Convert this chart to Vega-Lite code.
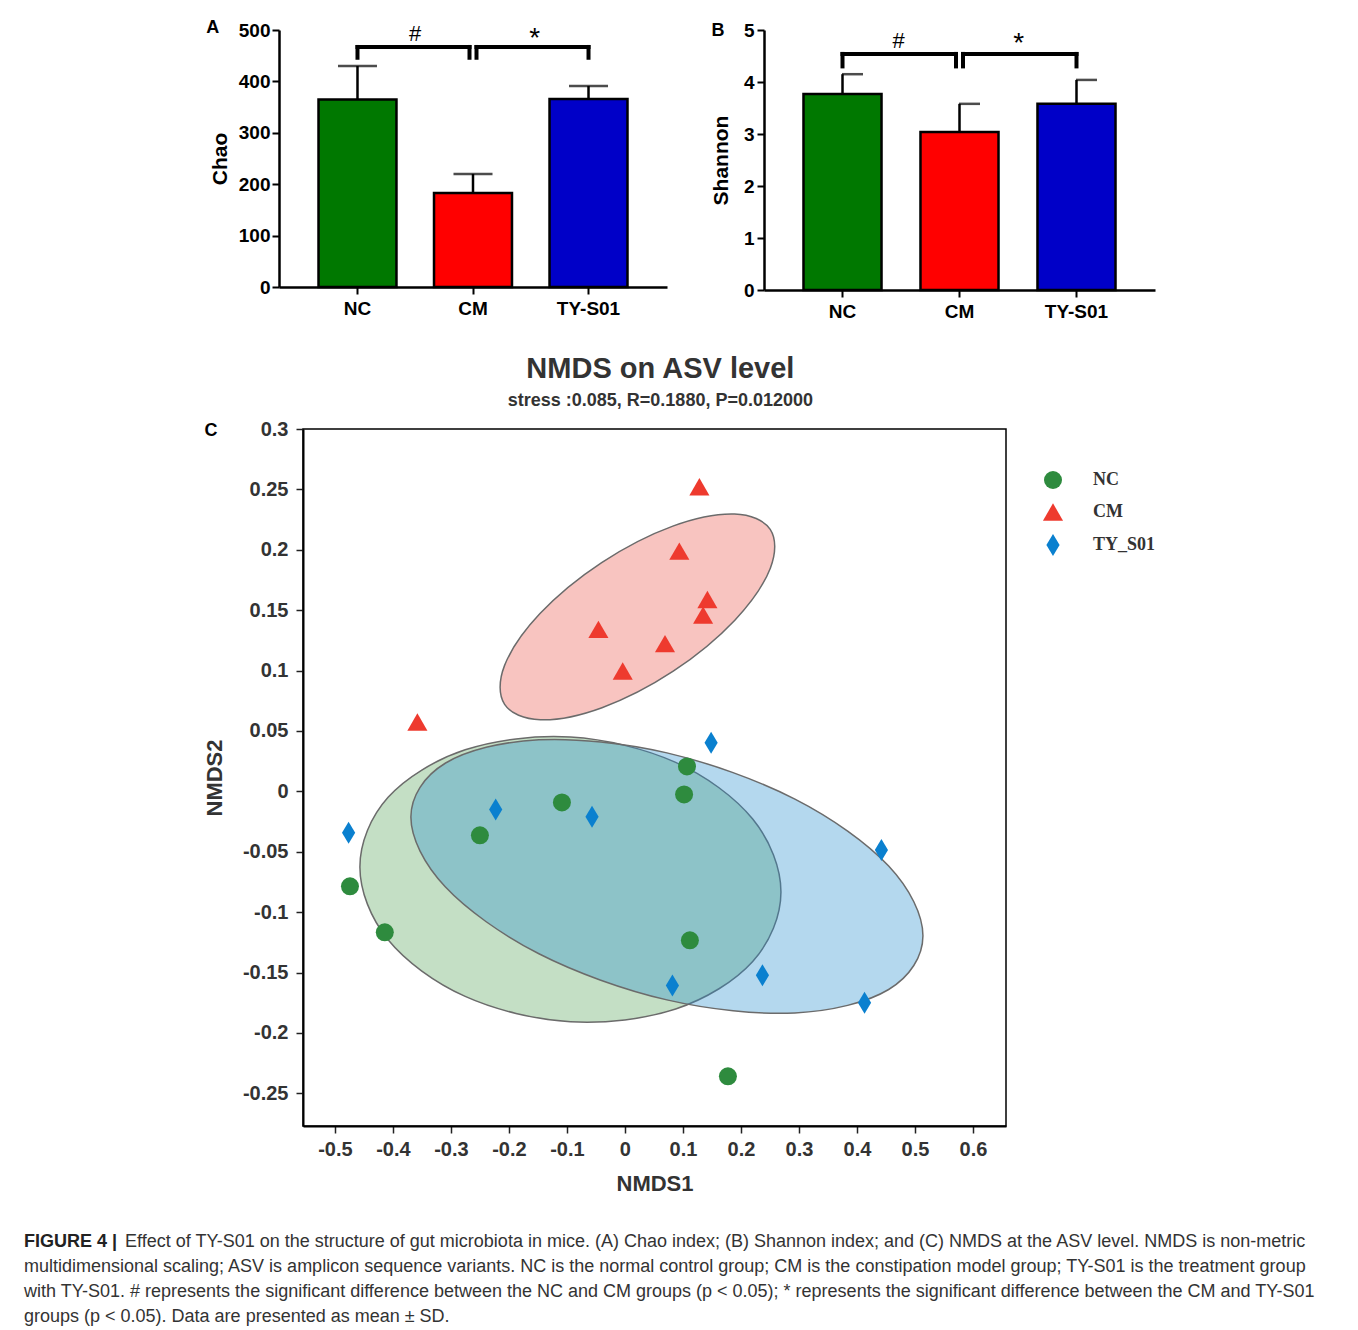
{
  "$schema": "https://vega.github.io/schema/vega-lite/v6.json",
  "background": "white",
  "padding": {"left": 24, "top": 19, "right": 0, "bottom": 0},
  "config": {
    "font": "Liberation Sans",
    "view": {"stroke": null},
    "axis": {"grid": false, "labelFont": "Liberation Sans", "titleFont": "Liberation Sans"},
    "title": {"font": "Liberation Sans"}
  },
  "datasets": {
    "chao": [
      {"group": "NC", "mean": 365, "upper": 430},
      {"group": "CM", "mean": 183, "upper": 220},
      {"group": "TY-S01", "mean": 366, "upper": 391}
    ],
    "chaoSig": [
      {"k": "h1", "a": "NC", "b": "CM", "y": 467, "y0": 446, "t": "#", "ty": 492},
      {"k": "h2", "a": "CM", "b": "TY-S01", "y": 467, "y0": 446, "t": "*", "ty": 482}
    ],
    "shannon": [
      {"group": "NC", "mean": 3.77, "upper": 4.15},
      {"group": "CM", "mean": 3.04, "upper": 3.58},
      {"group": "TY-S01", "mean": 3.58, "upper": 4.04}
    ],
    "shannonSig": [
      {"k": "h1", "a": "NC", "b": "CM", "y": 4.54, "y0": 4.3, "t": "#", "ty": 4.78},
      {"k": "h2", "a": "CM", "b": "TY-S01", "y": 4.54, "y0": 4.3, "t": "*", "ty": 4.74}
    ],
    "ell": [
      {"grp": "NC", "ord": 0, "x": 0.2690, "y": -0.0832},
      {"grp": "NC", "ord": 1, "x": 0.2203, "y": -0.1408},
      {"grp": "NC", "ord": 2, "x": 0.0875, "y": -0.1801},
      {"grp": "NC", "ord": 3, "x": -0.0940, "y": -0.1907},
      {"grp": "NC", "ord": 4, "x": -0.2754, "y": -0.1697},
      {"grp": "NC", "ord": 5, "x": -0.4083, "y": -0.1228},
      {"grp": "NC", "ord": 6, "x": -0.4569, "y": -0.0625},
      {"grp": "NC", "ord": 7, "x": -0.4083, "y": -0.0049},
      {"grp": "NC", "ord": 8, "x": -0.2754, "y": 0.0344},
      {"grp": "NC", "ord": 9, "x": -0.0940, "y": 0.0450},
      {"grp": "NC", "ord": 10, "x": 0.0875, "y": 0.0240},
      {"grp": "NC", "ord": 11, "x": 0.2203, "y": -0.0229},
      {"grp": "TY_S01", "ord": 0, "x": 0.5138, "y": -0.1195},
      {"grp": "TY_S01", "ord": 1, "x": 0.4547, "y": -0.1640},
      {"grp": "TY_S01", "ord": 2, "x": 0.2931, "y": -0.1834},
      {"grp": "TY_S01", "ord": 3, "x": 0.0724, "y": -0.1726},
      {"grp": "TY_S01", "ord": 4, "x": -0.1483, "y": -0.1344},
      {"grp": "TY_S01", "ord": 5, "x": -0.3098, "y": -0.0790},
      {"grp": "TY_S01", "ord": 6, "x": -0.3690, "y": -0.0213},
      {"grp": "TY_S01", "ord": 7, "x": -0.3098, "y": 0.0233},
      {"grp": "TY_S01", "ord": 8, "x": -0.1483, "y": 0.0427},
      {"grp": "TY_S01", "ord": 9, "x": 0.0724, "y": 0.0319},
      {"grp": "TY_S01", "ord": 10, "x": 0.2931, "y": -0.0064},
      {"grp": "TY_S01", "ord": 11, "x": 0.4547, "y": -0.0618},
      {"grp": "CM", "ord": 0, "x": 0.2505, "y": 0.2169},
      {"grp": "CM", "ord": 1, "x": 0.2507, "y": 0.1848},
      {"grp": "CM", "ord": 2, "x": 0.1895, "y": 0.1417},
      {"grp": "CM", "ord": 3, "x": 0.0833, "y": 0.0995},
      {"grp": "CM", "ord": 4, "x": -0.0395, "y": 0.0693},
      {"grp": "CM", "ord": 5, "x": -0.1459, "y": 0.0593},
      {"grp": "CM", "ord": 6, "x": -0.2074, "y": 0.0720},
      {"grp": "CM", "ord": 7, "x": -0.2076, "y": 0.1041},
      {"grp": "CM", "ord": 8, "x": -0.1464, "y": 0.1472},
      {"grp": "CM", "ord": 9, "x": -0.0401, "y": 0.1894},
      {"grp": "CM", "ord": 10, "x": 0.0826, "y": 0.2196},
      {"grp": "CM", "ord": 11, "x": 0.1890, "y": 0.2296}
    ],
    "pts": [
      {"grp": "NC", "x": 0.107, "y": 0.0207},
      {"grp": "NC", "x": 0.102, "y": -0.0025},
      {"grp": "NC", "x": -0.1086, "y": -0.0091},
      {"grp": "NC", "x": -0.250, "y": -0.0364},
      {"grp": "NC", "x": -0.474, "y": -0.0786},
      {"grp": "NC", "x": -0.414, "y": -0.1167},
      {"grp": "NC", "x": 0.112, "y": -0.1233},
      {"grp": "NC", "x": 0.1776, "y": -0.2359},
      {"grp": "CM", "x": 0.1284, "y": 0.2522},
      {"grp": "CM", "x": 0.0938, "y": 0.1989},
      {"grp": "CM", "x": 0.1422, "y": 0.1589},
      {"grp": "CM", "x": 0.1348, "y": 0.1459},
      {"grp": "CM", "x": -0.0457, "y": 0.1341},
      {"grp": "CM", "x": 0.0691, "y": 0.1223},
      {"grp": "CM", "x": -0.0038, "y": 0.0996},
      {"grp": "CM", "x": -0.3578, "y": 0.0574},
      {"grp": "TY_S01", "x": 0.1486, "y": 0.0403},
      {"grp": "TY_S01", "x": -0.2228, "y": -0.0149},
      {"grp": "TY_S01", "x": -0.0567, "y": -0.0210},
      {"grp": "TY_S01", "x": -0.4764, "y": -0.0342},
      {"grp": "TY_S01", "x": 0.4422, "y": -0.0486},
      {"grp": "TY_S01", "x": 0.2371, "y": -0.1523},
      {"grp": "TY_S01", "x": 0.0819, "y": -0.1606},
      {"grp": "TY_S01", "x": 0.4131, "y": -0.1749}
    ],
    "caption": [
      {"line": 1, "w": "b", "text": "FIGURE 4 |"},
      {"line": 1, "w": "r1", "text": "Effect of TY-S01 on the structure of gut microbiota in mice. (A) Chao index; (B) Shannon index; and (C) NMDS at the ASV level. NMDS is non-metric"},
      {"line": 2, "w": "r", "text": "multidimensional scaling; ASV is amplicon sequence variants. NC is the normal control group; CM is the constipation model group; TY-S01 is the treatment group"},
      {"line": 3, "w": "r", "text": "with TY-S01. # represents the significant difference between the NC and CM groups (p < 0.05); * represents the significant difference between the CM and TY-S01"},
      {"line": 4, "w": "r", "text": "groups (p < 0.05). Data are presented as mean ± SD."}
    ]
  },
  "spacing": 34,
  "align": "none",
  "bounds": "full",
  "resolve": {
    "scale": {"color": "independent", "shape": "independent", "size": "independent"},
    "legend": {"color": "independent", "shape": "independent", "size": "independent"}
  },
  "vconcat": [
    {
      "spacing": 43,
      "align": "none",
      "bounds": "full",
      "hconcat": [
        {"width": 139, "height": 1, "data": {"values": [{"s": 1}]}, "mark": {"type": "point", "opacity": 0}},
        {
          "width": 388,
          "height": 257,
          "title": {"text": "A", "orient": "left", "anchor": "end", "angle": 0, "align": "right", "baseline": "middle", "offset": -23, "dy": 7, "fontSize": 18, "fontWeight": "bold", "color": "black"},
          "layer": [
            {
              "data": {"name": "chao"},
              "mark": {"type": "bar", "stroke": "black", "strokeWidth": 2.5},
              "encoding": {
                "x": {"field": "group", "type": "nominal", "sort": ["NC", "CM", "TY-S01"], "scale": {"domain": ["NC", "CM", "TY-S01"], "paddingInner": 0.325, "paddingOuter": 0.342},
                  "axis": {"title": null, "labelAngle": 0, "labelFontSize": 19, "labelFontWeight": "bold", "labelColor": "black", "labelPadding": 5, "tickSize": 7, "tickWidth": 2, "tickColor": "black", "domainColor": "black", "domainWidth": 2.5}},
                "y": {"field": "mean", "type": "quantitative", "scale": {"domain": [0, 500], "nice": false},
                  "axis": {"title": "Chao", "values": [0, 100, 200, 300, 400, 500], "titleFontSize": 21, "titleFontWeight": "bold", "titleColor": "black", "titlePadding": 8, "labelFontSize": 19, "labelFontWeight": "bold", "labelColor": "black", "labelPadding": 2, "tickSize": 7, "tickWidth": 2, "tickColor": "black", "domainColor": "black", "domainWidth": 2.5}},
                "color": {"field": "group", "type": "nominal", "scale": {"domain": ["NC", "CM", "TY-S01"], "range": ["#007800", "#ff0000", "#0000c8"]}, "legend": null}
              }
            },
            {
              "data": {"name": "chao"},
              "mark": {"type": "rule", "color": "black", "strokeWidth": 2.5},
              "encoding": {
                "x": {"field": "group", "type": "nominal", "sort": ["NC", "CM", "TY-S01"]},
                "y": {"field": "mean", "type": "quantitative"},
                "y2": {"field": "upper"}
              }
            },
            {
              "data": {"name": "chao"},
              "mark": {"type": "tick", "color": "black", "thickness": 2.5, "size": 39, "orient": "horizontal"},
              "encoding": {
                "x": {"field": "group", "type": "nominal", "sort": ["NC", "CM", "TY-S01"]},
                "y": {"field": "upper", "type": "quantitative"}
              }
            },
            {
              "data": {"name": "chaoSig"},
              "transform": [{"filter": "datum.k == 'h1'"}],
              "mark": {"type": "rule", "color": "black", "strokeWidth": 4, "strokeCap": "square", "x2Offset": -3.5},
              "encoding": {"x": {"field": "a", "type": "nominal", "sort": ["NC", "CM", "TY-S01"]}, "x2": {"field": "b"}, "y": {"field": "y", "type": "quantitative"}}
            },
            {
              "data": {"name": "chaoSig"},
              "transform": [{"filter": "datum.k == 'h1'"}],
              "mark": {"type": "rule", "color": "black", "strokeWidth": 4, "strokeCap": "square"},
              "encoding": {"x": {"field": "a", "type": "nominal", "sort": ["NC", "CM", "TY-S01"]}, "y": {"field": "y0", "type": "quantitative"}, "y2": {"field": "y"}}
            },
            {
              "data": {"name": "chaoSig"},
              "transform": [{"filter": "datum.k == 'h1'"}],
              "mark": {"type": "rule", "color": "black", "strokeWidth": 4, "strokeCap": "square", "xOffset": -3.5},
              "encoding": {"x": {"field": "b", "type": "nominal", "sort": ["NC", "CM", "TY-S01"]}, "y": {"field": "y0", "type": "quantitative"}, "y2": {"field": "y"}}
            },
            {
              "data": {"name": "chaoSig"},
              "transform": [{"filter": "datum.k == 'h2'"}],
              "mark": {"type": "rule", "color": "black", "strokeWidth": 4, "strokeCap": "square", "xOffset": 3.5},
              "encoding": {"x": {"field": "a", "type": "nominal", "sort": ["NC", "CM", "TY-S01"]}, "x2": {"field": "b"}, "y": {"field": "y", "type": "quantitative"}}
            },
            {
              "data": {"name": "chaoSig"},
              "transform": [{"filter": "datum.k == 'h2'"}],
              "mark": {"type": "rule", "color": "black", "strokeWidth": 4, "strokeCap": "square", "xOffset": 3.5},
              "encoding": {"x": {"field": "a", "type": "nominal", "sort": ["NC", "CM", "TY-S01"]}, "y": {"field": "y0", "type": "quantitative"}, "y2": {"field": "y"}}
            },
            {
              "data": {"name": "chaoSig"},
              "transform": [{"filter": "datum.k == 'h2'"}],
              "mark": {"type": "rule", "color": "black", "strokeWidth": 4, "strokeCap": "square"},
              "encoding": {"x": {"field": "b", "type": "nominal", "sort": ["NC", "CM", "TY-S01"]}, "y": {"field": "y0", "type": "quantitative"}, "y2": {"field": "y"}}
            },
            {
              "data": {"name": "chaoSig"},
              "transform": [{"filter": "datum.k == 'h1'"}],
              "mark": {"type": "text", "fontSize": 22, "color": "black", "baseline": "middle", "align": "center"},
              "encoding": {"x": {"field": "a", "type": "nominal", "sort": ["NC", "CM", "TY-S01"], "bandPosition": 1.24}, "y": {"field": "ty", "type": "quantitative"}, "text": {"field": "t"}}
            },
            {
              "data": {"name": "chaoSig"},
              "transform": [{"filter": "datum.k == 'h2'"}],
              "mark": {"type": "text", "fontSize": 28, "color": "black", "baseline": "middle", "align": "center"},
              "encoding": {"x": {"field": "a", "type": "nominal", "sort": ["NC", "CM", "TY-S01"], "bandPosition": 1.29}, "y": {"field": "ty", "type": "quantitative"}, "text": {"field": "t"}}
            }
          ]
        },
        {
          "width": 391,
          "height": 260,
          "title": {"text": "B", "orient": "left", "anchor": "end", "angle": 0, "align": "right", "baseline": "middle", "offset": -27, "dy": 10, "fontSize": 18, "fontWeight": "bold", "color": "black"},
          "layer": [
            {
              "data": {"name": "shannon"},
              "mark": {"type": "bar", "stroke": "black", "strokeWidth": 2.5},
              "encoding": {
                "x": {"field": "group", "type": "nominal", "sort": ["NC", "CM", "TY-S01"], "scale": {"domain": ["NC", "CM", "TY-S01"], "paddingInner": 0.333, "paddingOuter": 0.3375},
                  "axis": {"title": null, "labelAngle": 0, "labelFontSize": 19, "labelFontWeight": "bold", "labelColor": "black", "labelPadding": 5, "tickSize": 7, "tickWidth": 2, "tickColor": "black", "domainColor": "black", "domainWidth": 2.5}},
                "y": {"field": "mean", "type": "quantitative", "scale": {"domain": [0, 5], "nice": false},
                  "axis": {"title": "Shannon", "values": [0, 1, 2, 3, 4, 5], "titleFontSize": 21, "titleFontWeight": "bold", "titleColor": "black", "titlePadding": 12, "labelFontSize": 19, "labelFontWeight": "bold", "labelColor": "black", "labelPadding": 3, "tickSize": 7, "tickWidth": 2, "tickColor": "black", "domainColor": "black", "domainWidth": 2.5}},
                "color": {"field": "group", "type": "nominal", "scale": {"domain": ["NC", "CM", "TY-S01"], "range": ["#007800", "#ff0000", "#0000c8"]}, "legend": null}
              }
            },
            {
              "data": {"name": "shannon"},
              "mark": {"type": "rule", "color": "black", "strokeWidth": 2.5},
              "encoding": {
                "x": {"field": "group", "type": "nominal", "sort": ["NC", "CM", "TY-S01"]},
                "y": {"field": "mean", "type": "quantitative"},
                "y2": {"field": "upper"}
              }
            },
            {
              "data": {"name": "shannon"},
              "mark": {"type": "tick", "color": "black", "thickness": 2.5, "size": 21, "orient": "horizontal", "xOffset": 10},
              "encoding": {
                "x": {"field": "group", "type": "nominal", "sort": ["NC", "CM", "TY-S01"]},
                "y": {"field": "upper", "type": "quantitative"}
              }
            },
            {
              "data": {"name": "shannonSig"},
              "transform": [{"filter": "datum.k == 'h1'"}],
              "mark": {"type": "rule", "color": "black", "strokeWidth": 4, "strokeCap": "square", "x2Offset": -3.5},
              "encoding": {"x": {"field": "a", "type": "nominal", "sort": ["NC", "CM", "TY-S01"]}, "x2": {"field": "b"}, "y": {"field": "y", "type": "quantitative"}}
            },
            {
              "data": {"name": "shannonSig"},
              "transform": [{"filter": "datum.k == 'h1'"}],
              "mark": {"type": "rule", "color": "black", "strokeWidth": 4, "strokeCap": "square"},
              "encoding": {"x": {"field": "a", "type": "nominal", "sort": ["NC", "CM", "TY-S01"]}, "y": {"field": "y0", "type": "quantitative"}, "y2": {"field": "y"}}
            },
            {
              "data": {"name": "shannonSig"},
              "transform": [{"filter": "datum.k == 'h1'"}],
              "mark": {"type": "rule", "color": "black", "strokeWidth": 4, "strokeCap": "square", "xOffset": -3.5},
              "encoding": {"x": {"field": "b", "type": "nominal", "sort": ["NC", "CM", "TY-S01"]}, "y": {"field": "y0", "type": "quantitative"}, "y2": {"field": "y"}}
            },
            {
              "data": {"name": "shannonSig"},
              "transform": [{"filter": "datum.k == 'h2'"}],
              "mark": {"type": "rule", "color": "black", "strokeWidth": 4, "strokeCap": "square", "xOffset": 3.5},
              "encoding": {"x": {"field": "a", "type": "nominal", "sort": ["NC", "CM", "TY-S01"]}, "x2": {"field": "b"}, "y": {"field": "y", "type": "quantitative"}}
            },
            {
              "data": {"name": "shannonSig"},
              "transform": [{"filter": "datum.k == 'h2'"}],
              "mark": {"type": "rule", "color": "black", "strokeWidth": 4, "strokeCap": "square", "xOffset": 3.5},
              "encoding": {"x": {"field": "a", "type": "nominal", "sort": ["NC", "CM", "TY-S01"]}, "y": {"field": "y0", "type": "quantitative"}, "y2": {"field": "y"}}
            },
            {
              "data": {"name": "shannonSig"},
              "transform": [{"filter": "datum.k == 'h2'"}],
              "mark": {"type": "rule", "color": "black", "strokeWidth": 4, "strokeCap": "square"},
              "encoding": {"x": {"field": "b", "type": "nominal", "sort": ["NC", "CM", "TY-S01"]}, "y": {"field": "y0", "type": "quantitative"}, "y2": {"field": "y"}}
            },
            {
              "data": {"name": "shannonSig"},
              "transform": [{"filter": "datum.k == 'h1'"}],
              "mark": {"type": "text", "fontSize": 22, "color": "black", "baseline": "middle", "align": "center"},
              "encoding": {"x": {"field": "a", "type": "nominal", "sort": ["NC", "CM", "TY-S01"], "bandPosition": 1.22}, "y": {"field": "ty", "type": "quantitative"}, "text": {"field": "t"}}
            },
            {
              "data": {"name": "shannonSig"},
              "transform": [{"filter": "datum.k == 'h2'"}],
              "mark": {"type": "text", "fontSize": 28, "color": "black", "baseline": "middle", "align": "center"},
              "encoding": {"x": {"field": "a", "type": "nominal", "sort": ["NC", "CM", "TY-S01"], "bandPosition": 1.26}, "y": {"field": "ty", "type": "quantitative"}, "text": {"field": "t"}}
            }
          ]
        }
      ]
    },
    {
      "title": {"text": "NMDS on ASV level", "subtitle": "stress :0.085, R=0.1880, P=0.012000", "anchor": "middle", "frame": "bounds", "dx": 70, "offset": 8, "fontSize": 29, "fontWeight": "bold", "color": "#333333", "subtitleFont": "Liberation Sans", "subtitleFontSize": 18, "subtitleFontWeight": "bold", "subtitleColor": "#333333", "subtitlePadding": 8},
      "spacing": 0,
      "align": "none",
      "bounds": "full",
      "resolve": {
        "scale": {"color": "independent", "shape": "independent", "size": "independent"},
        "legend": {"color": "independent", "shape": "independent", "size": "independent"}
      },
      "hconcat": [
        {"width": 178, "height": 1, "data": {"values": [{"s": 1}]}, "mark": {"type": "point", "opacity": 0}},
        {
          "width": 703,
          "height": 697,
          "view": {"stroke": "black", "strokeWidth": 1.5},
          "title": {"text": "C", "orient": "left", "anchor": "end", "angle": 0, "align": "right", "baseline": "middle", "offset": -27, "dy": 12, "fontSize": 18, "fontWeight": "bold", "color": "black"},
          "layer": [
            {
              "data": {"name": "ell"},
              "transform": [{"filter": "datum.grp == 'NC'"}],
              "mark": {"type": "line", "interpolate": "cardinal-closed", "fill": "#56a459", "fillOpacity": 0.35, "stroke": "#6b6b6b", "strokeWidth": 1.5},
              "encoding": {
                "x": {"field": "x", "type": "quantitative", "scale": {"domain": [-0.555, 0.657], "nice": false, "zero": false},
                  "axis": {"title": "NMDS1", "values": [-0.5, -0.4, -0.3, -0.2, -0.1, 0, 0.1, 0.2, 0.3, 0.4, 0.5, 0.6], "labelExpr": "datum.value < 0 ? '-' + format(-datum.value, '~g') : format(datum.value, '~g')", "labelFontSize": 20, "labelFontWeight": "bold", "labelColor": "#333333", "labelPadding": 6, "tickSize": 7, "tickWidth": 1.5, "tickColor": "#222222", "domainColor": "black", "domainWidth": 2, "titleFontSize": 22, "titleFontWeight": "bold", "titleColor": "#333333", "titlePadding": 14}},
                "y": {"field": "y", "type": "quantitative", "scale": {"domain": [-0.277, 0.3], "nice": false, "zero": false},
                  "axis": {"title": "NMDS2", "values": [0.3, 0.25, 0.2, 0.15, 0.1, 0.05, 0, -0.05, -0.1, -0.15, -0.2, -0.25], "labelExpr": "datum.value < 0 ? '-' + format(-datum.value, '~g') : format(datum.value, '~g')", "labelFontSize": 20, "labelFontWeight": "bold", "labelColor": "#333333", "labelPadding": 8, "tickSize": 7, "tickWidth": 1.5, "tickColor": "#222222", "domainColor": "black", "domainWidth": 2, "titleFontSize": 22, "titleFontWeight": "bold", "titleColor": "#333333", "titlePadding": 16}},
                "order": {"field": "ord", "type": "quantitative"}
              }
            },
            {
              "data": {"name": "ell"},
              "transform": [{"filter": "datum.grp == 'TY_S01'"}],
              "mark": {"type": "line", "interpolate": "cardinal-closed", "fill": "#2790ce", "fillOpacity": 0.35, "stroke": "#6b6b6b", "strokeWidth": 1.5},
              "encoding": {
                "x": {"field": "x", "type": "quantitative"},
                "y": {"field": "y", "type": "quantitative"},
                "order": {"field": "ord", "type": "quantitative"}
              }
            },
            {
              "data": {"name": "ell"},
              "transform": [{"filter": "datum.grp == 'CM'"}],
              "mark": {"type": "line", "interpolate": "cardinal-closed", "fill": "#eb564b", "fillOpacity": 0.35, "stroke": "#6b6b6b", "strokeWidth": 1.5},
              "encoding": {
                "x": {"field": "x", "type": "quantitative"},
                "y": {"field": "y", "type": "quantitative"},
                "order": {"field": "ord", "type": "quantitative"}
              }
            },
            {
              "mark": {"type": "rule", "color": "#777777", "strokeDash": [4, 4], "strokeWidth": 2.5},
              "encoding": {"x": {"datum": 0, "type": "quantitative"}}
            },
            {
              "mark": {"type": "rule", "color": "#777777", "strokeDash": [4, 4], "strokeWidth": 2.5},
              "encoding": {"y": {"datum": 0, "type": "quantitative"}}
            },
            {
              "data": {"name": "pts"},
              "mark": {"type": "point", "filled": true, "opacity": 1},
              "encoding": {
                "x": {"field": "x", "type": "quantitative"},
                "y": {"field": "y", "type": "quantitative"},
                "color": {"field": "grp", "type": "nominal", "scale": {"domain": ["NC", "CM", "TY_S01"], "range": ["#2e8b3e", "#ee3a2e", "#0a80cf"]},
                  "legend": {"title": null, "orient": "none", "legendX": 738, "legendY": 41, "labelFont": "Liberation Serif", "labelFontSize": 18, "labelFontWeight": "bold", "labelColor": "#333333", "labelOffset": 28, "rowPadding": 12}},
                "shape": {"field": "grp", "type": "nominal", "scale": {"domain": ["NC", "CM", "TY_S01"], "range": ["circle", "triangle-up", "M0,-1L0.6,0L0,1L-0.6,0Z"]},
                  "legend": {"title": null, "orient": "none", "legendX": 738, "legendY": 41, "labelFont": "Liberation Serif", "labelFontSize": 18, "labelFontWeight": "bold", "labelColor": "#333333", "labelOffset": 28, "rowPadding": 12}},
                "size": {"field": "grp", "type": "nominal", "scale": {"domain": ["NC", "CM", "TY_S01"], "range": [324, 484, 784]},
                  "legend": {"title": null, "orient": "none", "legendX": 738, "legendY": 41, "labelFont": "Liberation Serif", "labelFontSize": 18, "labelFontWeight": "bold", "labelColor": "#333333", "labelOffset": 28, "rowPadding": 12}}
              }
            }
          ]
        }
      ]
    },
    {
      "width": 1310,
      "height": 100,
      "data": {"name": "caption"},
      "encoding": {
        "y": {"field": "line", "type": "ordinal", "axis": null, "scale": {"type": "point", "padding": 0.5}}
      },
      "layer": [
        {
          "transform": [{"filter": "datum.w == 'b'"}],
          "mark": {"type": "text", "align": "left", "baseline": "middle", "fontSize": 18, "fontWeight": "bold", "color": "#222222", "font": "Liberation Sans"},
          "encoding": {"x": {"value": 0}, "text": {"field": "text"}}
        },
        {
          "transform": [{"filter": "datum.w == 'r1'"}],
          "mark": {"type": "text", "align": "left", "baseline": "middle", "fontSize": 18, "color": "#333333", "font": "Liberation Sans", "dx": 101},
          "encoding": {"x": {"value": 0}, "text": {"field": "text"}}
        },
        {
          "transform": [{"filter": "datum.w == 'r'"}],
          "mark": {"type": "text", "align": "left", "baseline": "middle", "fontSize": 18, "color": "#333333", "font": "Liberation Sans"},
          "encoding": {"x": {"value": 0}, "text": {"field": "text"}}
        }
      ]
    }
  ]
}
